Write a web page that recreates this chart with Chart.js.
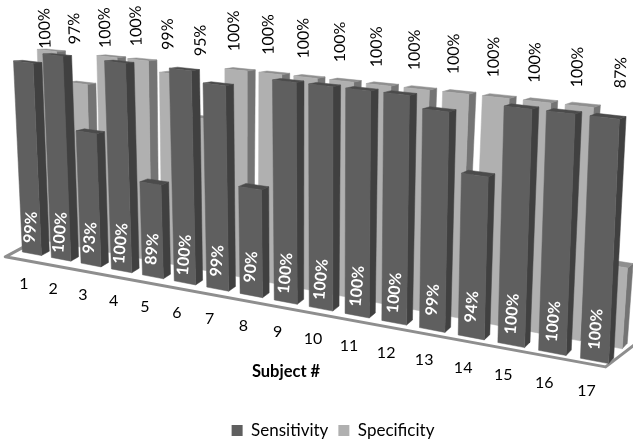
<!DOCTYPE html>
<html>
<head>
<meta charset="utf-8">
<style>
  html, body { margin: 0; padding: 0; background: #fff; }
  canvas { display: block; }
</style>
<script src="https://cdn.jsdelivr.net/npm/chart.js@4"></script>
</head>
<body>
<canvas id="chart" width="633" height="441"></canvas>
<script>
const subjects = ["1","2","3","4","5","6","7","8","9","10","11","12","13","14","15","16","17"];
const sensitivity = [99,100,93,100,89,100,99,90,100,100,100,100,99,94,100,100,100];
const specificity = [100,97,100,100,99,95,100,100,100,100,100,100,100,100,100,100,87];

// how far each specificity label floats above the 100% level (hand placed in the original)
const specLabelLift = [22,25,29,34,29,26,39,39,39,39,38,39,39,40,39,39,38];

const FONT = "Lato, 'Open Sans', sans-serif";
const REAR_ROW = 2.7; // rear row distance, in bar depths
const DEG = Math.PI / 180;

// corners of the front plane on screen
const quad = { x0: 17.5, y0: 251, x1: 616, y1: 365, x2: 627, y2: 120, x3: 8, y3: 50 };

// depth vector at the corners of the front plane, per bar depth
const depthAt = {
  bl: [8, -4.3], br: [5, -5.5],
  tl: [9, -0.4], tr: [6.7, -2.6]
};

const hom = (() => {
  const { x0, y0, x1, y1, x2, y2, x3, y3 } = quad;
  const dx1 = x1 - x2, dx2 = x3 - x2, sx = x0 - x1 + x2 - x3;
  const dy1 = y1 - y2, dy2 = y3 - y2, sy = y0 - y1 + y2 - y3;
  const den = dx1 * dy2 - dx2 * dy1;
  const g = (sx * dy2 - dx2 * sy) / den;
  const h = (dx1 * sy - sx * dy1) / den;
  return {
    a: x1 - x0 + g * x1, b: x3 - x0 + h * x3, c: x0,
    d: y1 - y0 + g * y1, e: y3 - y0 + h * y3, f: y0, g, h
  };
})();

// t, v are 0..1 across the chart area, d is depth
function project(t, v, d) {
  const w = hom.g * t + hom.h * v + 1;
  const sx = (hom.a * t + hom.b * v + hom.c) / w;
  const sy = (hom.d * t + hom.e * v + hom.f) / w;
  const dep = i =>
    (1 - t) * (1 - v) * depthAt.bl[i] + t * (1 - v) * depthAt.br[i] +
    (1 - t) * v * depthAt.tl[i] + t * v * depthAt.tr[i];
  return [sx + dep(0) * d, sy + dep(1) * d];
}

function poly(ctx, pts, fill) {
  ctx.beginPath();
  pts.forEach((p, i) => i ? ctx.lineTo(p[0], p[1]) : ctx.moveTo(p[0], p[1]));
  ctx.closePath();
  ctx.fillStyle = fill;
  ctx.fill();
  ctx.strokeStyle = fill;
  ctx.lineWidth = 0.5;
  ctx.stroke();
}

function drawBar(ctx, t0, t1, v, d, colors) {
  const d1 = d + 1;
  poly(ctx, [project(t1, 0, d), project(t1, 0, d1), project(t1, v, d1), project(t1, v, d)], colors.side);
  poly(ctx, [project(t0, v, d), project(t1, v, d), project(t1, v, d1), project(t0, v, d1)], colors.top);
  poly(ctx, [project(t0, 0, d), project(t1, 0, d), project(t1, v, d), project(t0, v, d)], colors.front);
}

function rotatedText(ctx, text, p, angle, color, font) {
  ctx.save();
  ctx.translate(p[0], p[1]);
  ctx.rotate(angle);
  ctx.fillStyle = color;
  ctx.font = font;
  ctx.textAlign = "center";
  ctx.textBaseline = "middle";
  ctx.fillText(text, 0, 0);
  ctx.restore();
}

// the bars are still laid out by chart.js, this only draws them in perspective
const perspective = {
  id: "perspective",
  beforeDatasetsDraw(chart) {
    const ctx = chart.ctx;
    const area = chart.chartArea;
    const toT = px => (px - area.left) / area.width;
    const toV = py => (area.bottom - py) / area.height;

    // floor edge
    ctx.save();
    ctx.beginPath();
    [project(-0.002, 0, 1.5), project(-0.002, 0, -1.4), project(0.99, 0, -0.6), project(1, 0, 3.7)]
      .forEach((p, i) => i ? ctx.lineTo(p[0], p[1]) : ctx.moveTo(p[0], p[1]));
    ctx.strokeStyle = "#8e8e8e";
    ctx.lineWidth = 3;
    ctx.lineJoin = "round";
    ctx.stroke();
    ctx.restore();

    const rows = [
      { meta: chart.getDatasetMeta(1), d: REAR_ROW, colors: { front: "#b0b0b0", side: "#747474", top: "#8f8f8f" } },
      { meta: chart.getDatasetMeta(0), d: 0, colors: { front: "#5f5f5f", side: "#404040", top: "#4b4b4b" } }
    ];
    rows.forEach(row => {
      row.meta.data.forEach(el => {
        const t0 = toT(el.x - el.width / 2), t1 = toT(el.x + el.width / 2);
        drawBar(ctx, t0, t1, toV(el.y), row.d, row.colors);
      });
    });

    // labels
    chart.getDatasetMeta(0).data.forEach((el, i) => {
      const t = toT(el.x);
      const a = project(t, 0.135, 0);
      rotatedText(ctx, sensitivity[i] + "%", a, -85 * DEG, "#fff", "bold 16px " + FONT);

      const base = project(t, 0, 0);
      rotatedText(ctx, subjects[i], [base[0] - 8, base[1] + 30], 0, "#000", "16px " + FONT);
    });
    chart.getDatasetMeta(1).data.forEach((el, i) => {
      const t = toT(el.x);
      const a = project(t, 1, REAR_ROW);
      const angle = (-92.5 + 4.5 * t) * DEG;
      rotatedText(ctx, specificity[i] + "%", [a[0] - 2, a[1] - specLabelLift[i]], angle, "#000", "16px " + FONT);
    });

    rotatedText(ctx, "Subject #", [286, 372], 0, "#000", "bold 16.5px " + FONT);
    return false;
  }
};

new Chart(document.getElementById("chart").getContext("2d"), {
  type: "bar",
  data: {
    labels: subjects,
    datasets: [
      { label: "Sensitivity", data: sensitivity, backgroundColor: "#5f5f5f", grouped: false },
      { label: "Specificity", data: specificity, backgroundColor: "#b0b0b0", grouped: false }
    ]
  },
  options: {
    responsive: false,
    animation: false,
    barPercentage: 0.66,
    categoryPercentage: 1,
    layout: { padding: { left: 33, bottom: -8 } },
    scales: {
      x: { display: false },
      y: { display: false, min: 80, max: 100 }
    },
    plugins: {
      tooltip: { enabled: false },
      legend: {
        position: "bottom",
        fullSize: false,
        labels: {
          boxWidth: 11, boxHeight: 11, padding: 10,
          color: "#000",
          font: { family: FONT, size: 17 }
        }
      }
    }
  },
  plugins: [perspective]
});
</script>
</body>
</html>
